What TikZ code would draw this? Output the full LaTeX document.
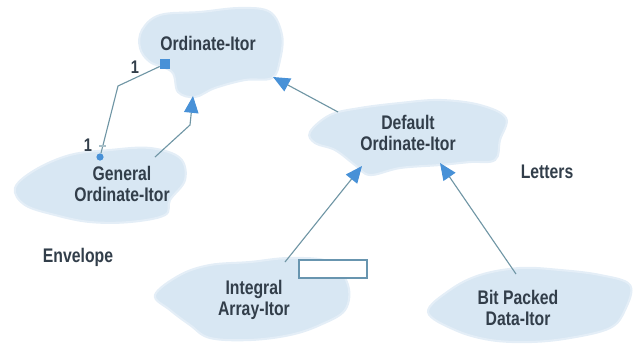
\documentclass[tikz,border=0pt]{standalone}
\usepackage{fontspec}
\setmainfont{Liberation Sans}[FakeStretch=0.8]
\usetikzlibrary{arrows.meta,positioning}
\definecolor{cloudFill}{RGB}{216,231,243}
\definecolor{linkGray}{RGB}{112,150,165}
\definecolor{tipBlue}{RGB}{72,145,215}
\definecolor{labelInk}{RGB}{50,62,74}

\begin{document}
\begin{tikzpicture}[
  x=0.025cm, y=-0.025cm,
  font=\bfseries\fontsize{14}{15.5}\selectfont,
  cloud/.style={
    fill=cloudFill,
    draw=cloudFill!70,
    line width=1.5pt,
  },
  lbl/.style={
    text=labelInk,
    align=center,
    inner sep=1pt,
  },
  link/.style={
    draw=linkGray,
    line width=0.8pt,
  },
  inherit/.style={
    link,
    -{Triangle[length=4.2mm, width=3.6mm, color=tipBlue]},
  },
]

  \useasboundingbox (0,0) rectangle (637,344);

  % clouds
  \path[cloud] plot[smooth cycle, tension=0.6] coordinates {
    (142,30) (160,15) (200,12) (240,8) (270,12) (282,35) (280,60)
    (272,78) (245,80) (215,88) (195,97) (178,92) (172,72) (150,62)
    (140,48)};
  \path[cloud] plot[smooth cycle, tension=0.6] coordinates {
    (15,188) (35,170) (70,155) (110,150) (150,148) (180,158)
    (185,180) (170,200) (165,215) (130,222) (90,222) (55,215)
    (25,205)};
  \path[cloud] plot[smooth cycle, tension=0.6] coordinates {
    (310,132) (330,115) (360,108) (400,103) (440,100) (480,105)
    (506,118) (500,140) (495,160) (470,162) (440,165) (400,168)
    (370,175) (355,165) (335,150) (315,143)};
  \path[cloud] plot[smooth cycle, tension=0.6] coordinates {
    (155,295) (180,275) (210,265) (250,262) (290,258) (330,262)
    (348,285) (345,310) (320,325) (290,335) (250,340) (210,338)
    (190,325) (170,310)};
  \path[cloud] plot[smooth cycle, tension=0.6] coordinates {
    (428,312) (450,290) (480,275) (520,268) (560,270) (600,275)
    (630,285) (625,310) (610,328) (570,338) (530,342) (490,340)
    (455,330)};

  % class names
  \node[lbl] (ordItor) at (208,43) {Ordinate-Itor};
  \node[lbl] (genItor) at (122,184) {General\\Ordinate-Itor};
  \node[lbl] (defItor) at (408,133) {Default\\Ordinate-Itor};
  \node[lbl] (intItor) at (254,300) {Integral\\Array-Itor};
  \node[lbl] (bitItor) at (518,308) {Bit Packed\\Data-Itor};

  \node[lbl] (envLbl) at (78,257) {Envelope};
  \node[lbl] (letLbl) at (547,172) {Letters};

  % attachment points
  \coordinate (ordBase) at (193,96);
  \coordinate (ordSide) at (273,77);
  \coordinate (genTop) at (155,157);
  \coordinate (defLeft) at (338,112);
  \coordinate (defBaseL) at (362,166);
  \coordinate (defBaseR) at (440,163);
  \coordinate (intTop) at (285,262);
  \coordinate (bitTop) at (516,274);

  % envelope/letter association
  \node[fill=tipBlue, minimum size=0.25cm, inner sep=0pt] (hasEnd) at (165,64) {};
  \node[fill=tipBlue, circle, minimum size=0.18cm, inner sep=0pt] (ownEnd) at (100,157) {};
  \draw[link] (hasEnd) -- (118,86) -- (ownEnd);
  \draw[linkGray!60, line width=1.2pt] (99,146) -- (106,146);
  \node[lbl, font=\bfseries\fontsize{13}{14}\selectfont] (oneTop) at (135,67) {1};
  \node[lbl, font=\bfseries\fontsize{13}{14}\selectfont] (oneBot) at (88,145) {1};

  % inheritance
  \draw[inherit] (genTop) -- (190,125) -- (ordBase);
  \draw[inherit] (defLeft) -- (ordSide);
  \draw[inherit] (intTop) -- (defBaseL);
  \draw[inherit] (bitTop) -- (defBaseR);

  % empty box
  \node[draw=linkGray!80!tipBlue, fill=white, line width=0.8pt,
    minimum width=68*0.025cm, minimum height=18*0.025cm, inner sep=0pt]
    (emptyBox) at (333,269) {};

\end{tikzpicture}
\end{document}
